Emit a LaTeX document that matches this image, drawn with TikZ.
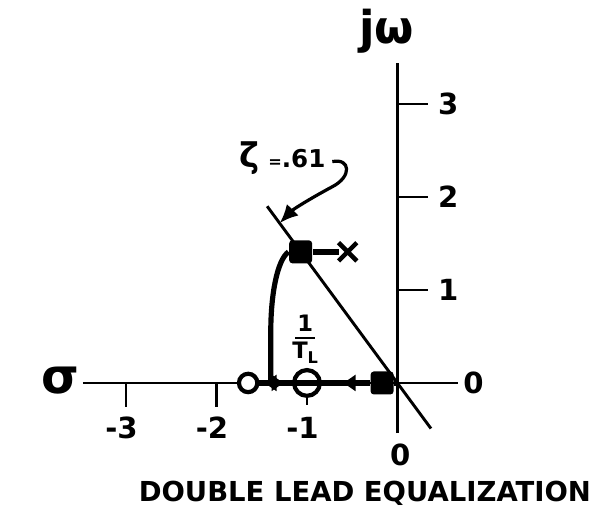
\documentclass[tikz,border=0pt]{standalone}
\usepackage{fontspec}
\setmainfont{DejaVu Sans}
\usetikzlibrary{arrows.meta,positioning,shapes.misc,decorations.markings}

\begin{document}
\begin{tikzpicture}[x=0.9837cm, y=1.0109cm,
    axisline/.style={line width=0.9pt},
    locus/.style={line width=1.9pt},
    zeromark/.style={circle, draw, line width=1.3pt, inner sep=0pt},
    clpole/.style={fill, rounded corners=1pt, minimum size=0.25cm, inner sep=0pt},
    olpole/.style={cross out, draw, line width=1.4pt, minimum size=0.15cm, inner sep=0pt},
    lbl/.style={font=\bfseries\fontsize{9}{10}\selectfont},
    midarrow/.style={postaction={decorate}, decoration={markings,
        mark=at position #1 with {\arrow{Triangle[length=1.3mm, width=1.7mm]}}}}]
  \useasboundingbox (-4.392,-1.441) rectangle (2.238,4.118);

  % --- axes ---
  \coordinate (O) at (0,0);
  \draw[axisline] (-3.475,0) -- (0.67,0);
  \draw[axisline] (0,-0.54) -- (0,3.44);
  \node[font=\bfseries\fontsize{15}{16}\selectfont] (sig) at (-3.73,0.03) {σ};
  \node[font=\bfseries\fontsize{14}{15}\selectfont] (jw) at (-0.12,3.78) {jω};
  \node[lbl] (re0) at (0.84,0) {0};
  \node[lbl] (im0) at (0.03,-0.77) {0};

  % ticks on the real axis
  \foreach \x in {-3,-2} {
    \draw[axisline] (\x,0) -- (\x,-0.26);
  }
  \foreach \x/\name in {-3/tA, -2/tB, -1/tC} {
    \node[lbl] (\name) at (\x-0.05,-0.48) {-\the\numexpr-\x\relax};
  }
  % ticks on the imaginary axis
  \foreach \y in {1,2,3} {
    \draw[axisline] (0,\y) -- (0.34,\y);
    \node[lbl] (im\y) at (0.56,\y) {\y};
  }

  % --- damping line ---
  \draw[line width=0.9pt] (-1.44,1.90) -- (0.37,-0.49);

  % --- poles and zeros ---
  \node[zeromark, fill=white, minimum size=0.2cm] (zA) at (-1.65,0) {};
  \node[zeromark, minimum size=0.28cm] (zB) at (-1.0,0) {};
  \node[clpole] (sqR) at (-0.17,0) {};
  \node[clpole] (sqC) at (-1.07,1.41) {};
  \node[olpole] (pC) at (-0.55,1.41) {};
  \coordinate (brk) at (-1.40,0);
  \draw[axisline] (zB.south) -- (-1,-0.24);

  % --- root locus branches ---
  \draw[locus, midarrow=0.55] (brk) -- (zA);
  \draw[locus, midarrow=0.6] (brk) -- (zB);
  \draw[locus] (zB.west) -- (zB.east);
  \draw[locus, midarrow=0.55] (sqR) -- (zB);
  \draw[locus] (sqR) -- (O);
  \draw[locus] (sqC) -- (pC);
  \draw[line width=1.6pt] (sqC.west) .. controls (-1.33,1.32) and (-1.40,0.95) .. (-1.40,0.55) -- (brk);

  % --- labels ---
  \node[font=\bfseries\fontsize{7}{7}\selectfont, align=center, inner sep=0pt] (TL) at (-1.02,0.47)
    {1\\[-4.5pt]\rule{2.2mm}{0.9pt}\\[-1pt]T\raisebox{-1.5pt}{\fontsize{5}{5}\selectfont L}};
  \node[font=\bfseries\fontsize{7.6}{8}\selectfont, inner sep=1pt] (zeta) at (-1.27,2.42)
    {{\fontsize{10.5}{10}\selectfont ζ} {\fontsize{5}{5}\selectfont =}.61};
  \coordinate (zs) at (-0.72,2.38);
  \coordinate (tipC) at (-1.30,1.72);
  \draw[line width=1pt, -{Latex[length=2mm, width=1.8mm]}] (zs) .. controls (-0.52,2.42) and (-0.5,2.22) .. (-0.72,2.11)
    .. controls (-0.95,1.99) and (-1.15,1.87) .. (tipC);

  \node[font=\bfseries\fontsize{8.5}{10}\selectfont] (cap) at (-0.36,-1.19) {DOUBLE LEAD EQUALIZATION};
\end{tikzpicture}
\end{document}
